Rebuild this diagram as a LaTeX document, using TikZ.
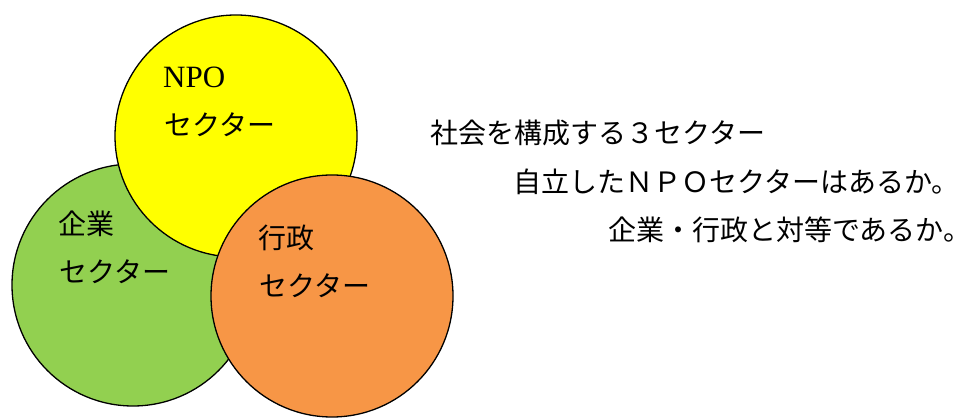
\documentclass[tikz,border=0pt]{standalone}
\usepackage{fontspec}
\setmainfont{Liberation Serif}
\newfontfamily\jp{Noto Sans CJK JP}
\definecolor{npoyellow}{HTML}{FFFF00}
\definecolor{kigyogreen}{HTML}{92D050}
\definecolor{gyoseiorange}{HTML}{F79646}
\begin{document}
\begin{tikzpicture}[x=1pt,y=-1pt,
  sector/.style={circle, draw=black, line width=1.3pt, minimum size=242pt, inner sep=0pt},
  lbl/.style={anchor=west, inner sep=0pt, font=\jp\fontsize{28pt}{28pt}\selectfont},
  latinlbl/.style={anchor=base west, inner sep=0pt, font=\fontsize{31pt}{31pt}\selectfont},
  txt/.style={anchor=west, inner sep=0pt, font=\jp\fontsize{28pt}{28pt}\selectfont}]
\useasboundingbox (0,0) rectangle (960,419);
\node[sector, fill=kigyogreen] (kigyo) at (133,285) {};
\node[sector, fill=npoyellow] (npo) at (236,136) {};
\node[sector, fill=gyoseiorange] (gyosei) at (332,296) {};
% labels
\node[latinlbl] (npoA) at (163,88) {NPO};
\node[lbl] (npoB) at (164,125) {セクター};
\node[lbl] (kigyoA) at (58,224) {企業};
\node[lbl] (kigyoB) at (59,272) {セクター};
\node[lbl] (gyoseiA) at (258,238) {行政};
\node[lbl] (gyoseiB) at (259,286) {セクター};
% right text
\node[txt] (t1) at (430,133) {社会を構成する３セクター};
\node[txt] (t2) at (513,181.5) {自立したＮＰＯセクターはあるか。\kern-14pt};
\node[txt] (t3) at (608,230) {企業・行政と対等であるか。\kern-15pt};
\end{tikzpicture}
\end{document}
